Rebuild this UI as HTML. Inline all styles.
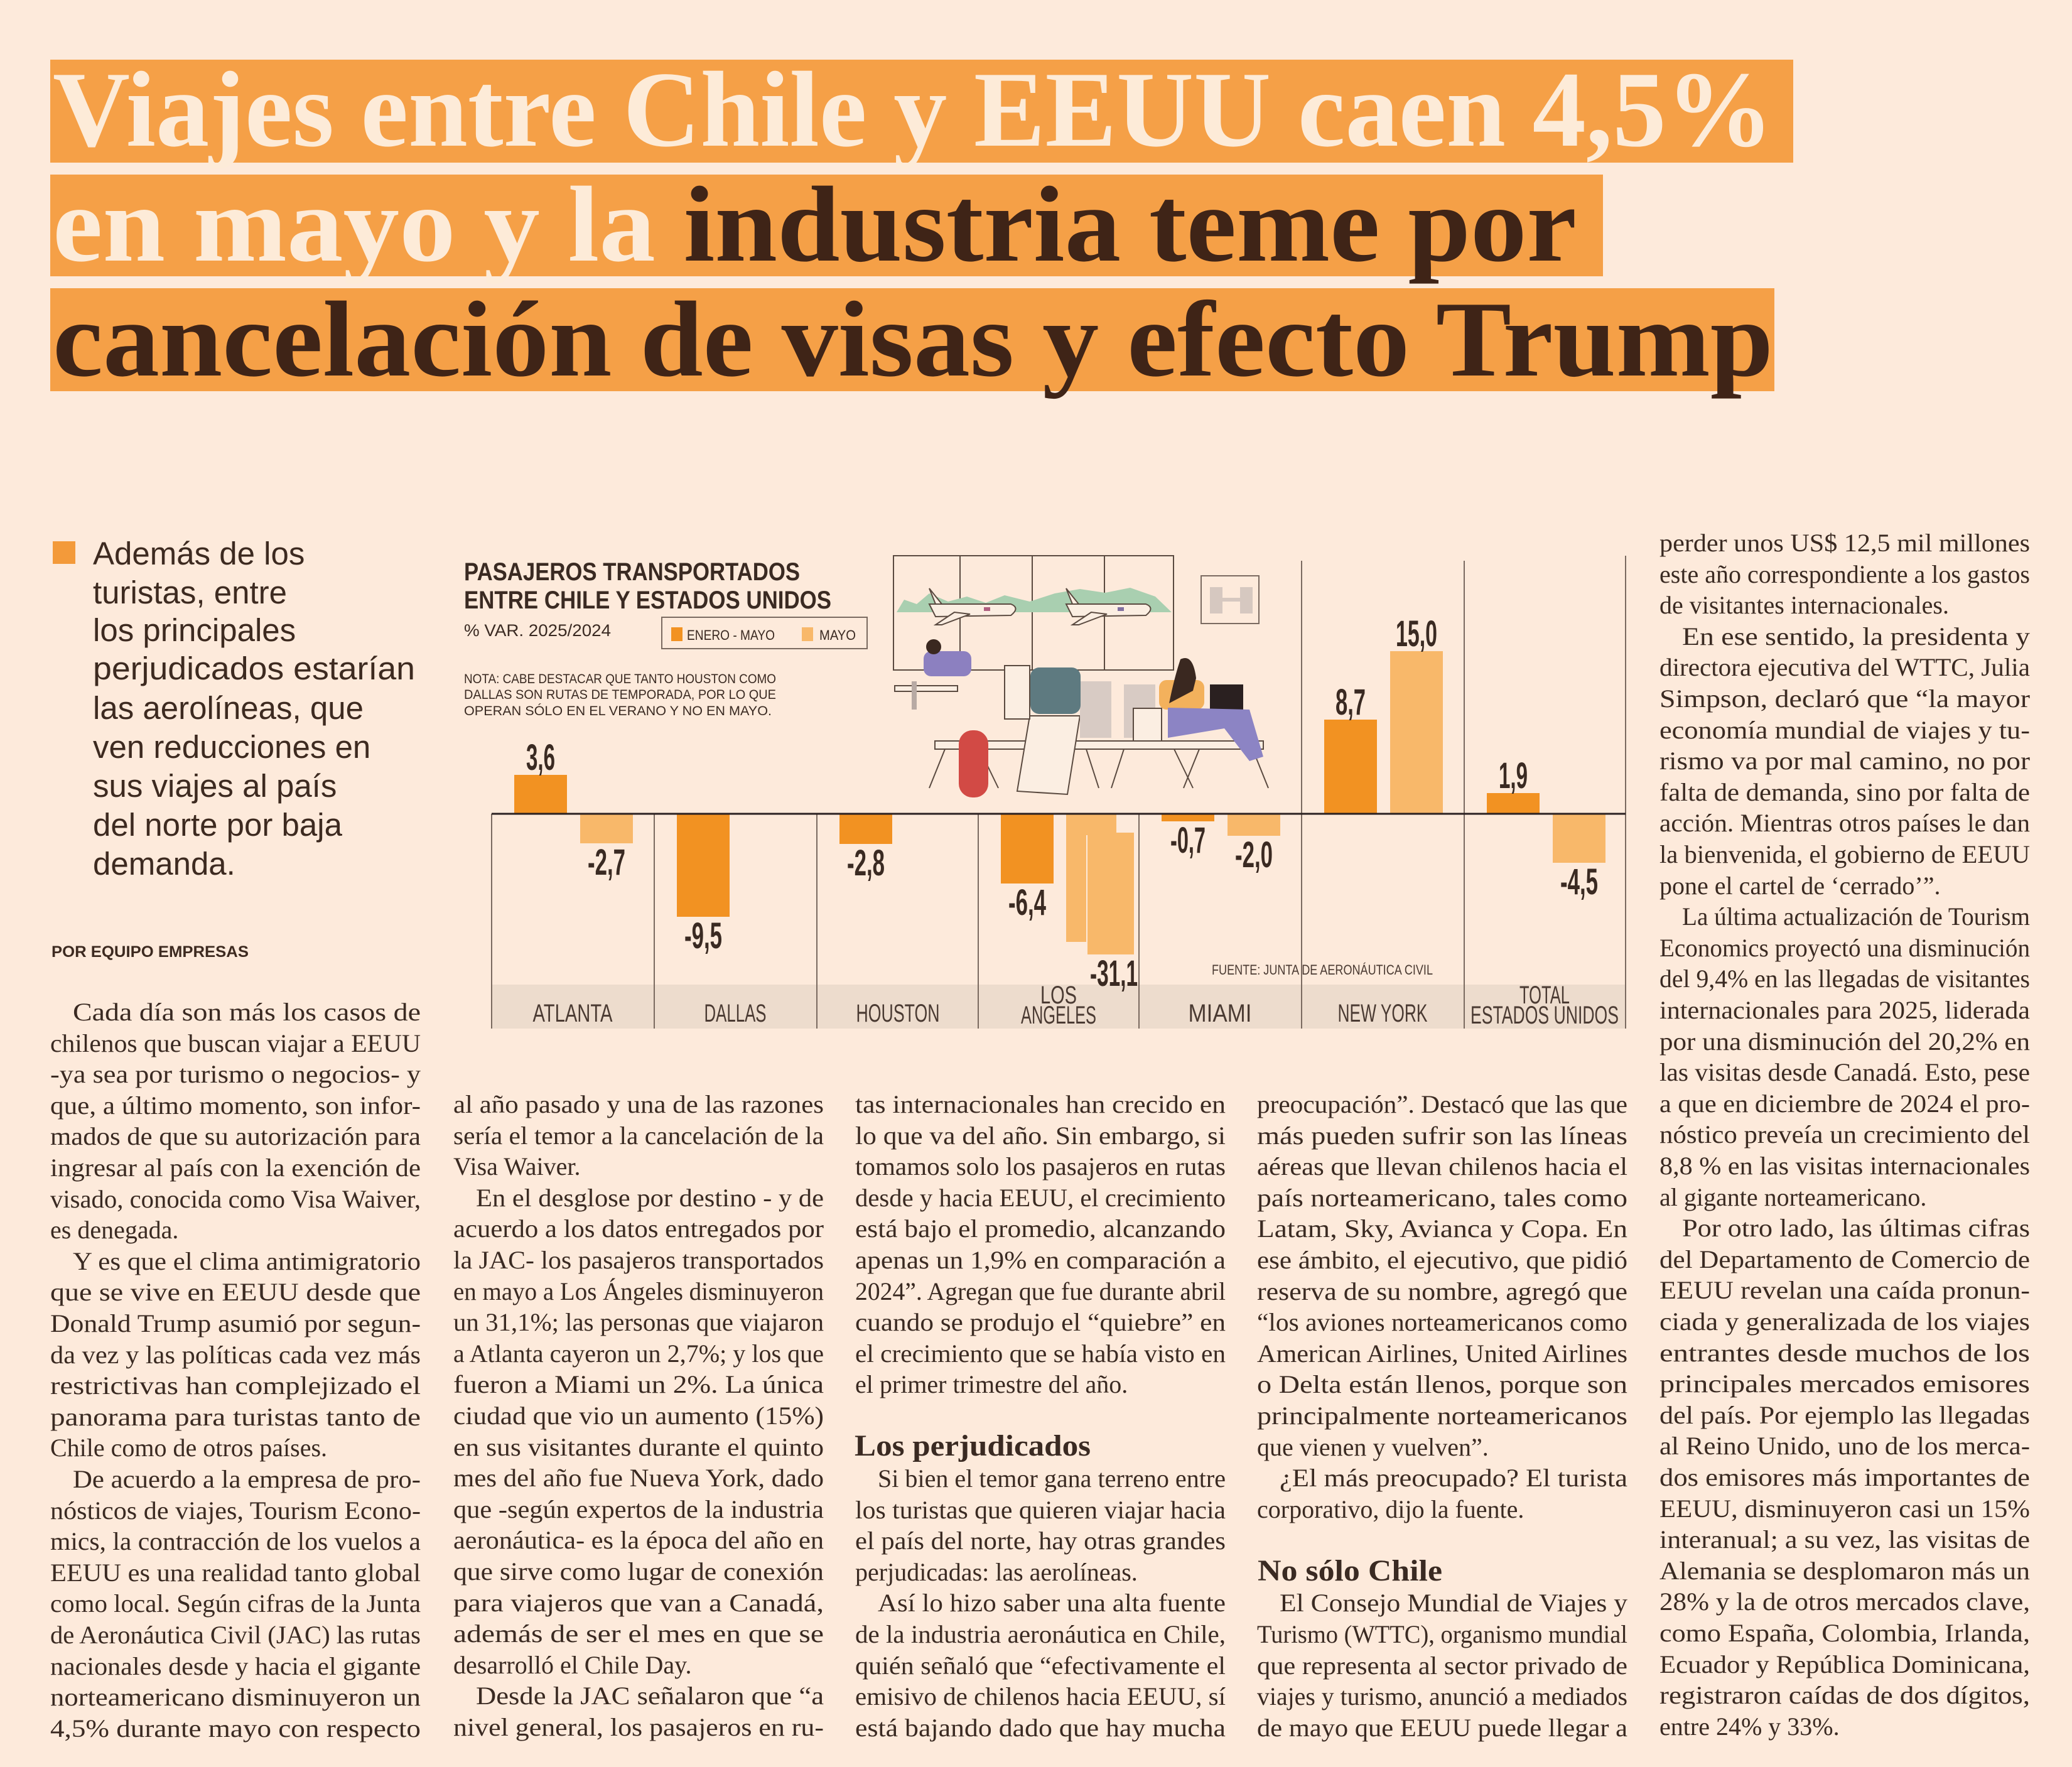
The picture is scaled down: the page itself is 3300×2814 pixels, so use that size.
<!DOCTYPE html>
<html><head><meta charset="utf-8"><style>
html,body{margin:0;padding:0;background:#fdeadb;}
svg{display:block}
.b{font-family:"Liberation Serif",serif;font-size:40px;fill:#3a2a22}
.h{font-family:"Liberation Serif",serif;font-size:48px;font-weight:bold;fill:#3a2a22}
.n{font-family:"Liberation Sans Narrow","Liberation Sans",sans-serif}
</style></head><body>
<svg width="3300" height="2814" viewBox="0 0 3300 2814" xmlns="http://www.w3.org/2000/svg">
<rect width="3300" height="2814" fill="#fdeadb"/>
<!-- Title -->
<rect x="80" y="95" width="2776" height="164" fill="#f5a047"/>
<rect x="80" y="278" width="2473" height="162" fill="#f5a047"/>
<rect x="80" y="459" width="2746" height="164" fill="#f5a047"/>
<g font-family="Liberation Serif, serif" font-weight="bold" font-size="172">
<text x="84" y="232" textLength="2740" lengthAdjust="spacingAndGlyphs" fill="#fdebd8">Viajes entre Chile y EEUU caen 4,5%</text>
<text x="84" y="415" textLength="2427" lengthAdjust="spacingAndGlyphs"><tspan fill="#fdebd8">en mayo y la </tspan><tspan fill="#3f2417">industria teme por</tspan></text>
<text x="84" y="598" textLength="2740" lengthAdjust="spacingAndGlyphs" fill="#3f2417">cancelación de visas y efecto Trump</text>
</g>
<!-- Lead -->
<rect x="84" y="862" width="36" height="36" fill="#f39a3a"/>
<g font-family="Liberation Sans, sans-serif" font-size="51" fill="#3d2a20">
<text x="148" y="899">Además de los</text>
<text x="148" y="961">turistas, entre</text>
<text x="148" y="1021">los principales</text>
<text x="148" y="1082" textLength="513" lengthAdjust="spacingAndGlyphs">perjudicados estarían</text>
<text x="148" y="1145">las aerolíneas, que</text>
<text x="148" y="1207">ven reducciones en</text>
<text x="148" y="1269">sus viajes al país</text>
<text x="148" y="1331">del norte por baja</text>
<text x="148" y="1393">demanda.</text>
</g>
<text x="82" y="1524" font-family="Liberation Sans, sans-serif" font-weight="bold" font-size="25" fill="#3d2a20" textLength="314" lengthAdjust="spacingAndGlyphs">POR EQUIPO EMPRESAS</text>

<!-- Chart -->
<g>
<rect x="783" y="1568" width="1806" height="70" fill="#eddccd"/>
<g stroke="#5a4a40" stroke-width="2" fill="none">
<rect x="1423" y="885" width="446" height="182"/>
<line x1="1529" y1="885" x2="1529" y2="1067"/><line x1="1644" y1="885" x2="1644" y2="1067"/><line x1="1759" y1="885" x2="1759" y2="1067"/>
</g>
<path d="M1428 975 L1440 955 L1460 962 L1480 945 L1510 958 L1540 950 L1570 960 L1600 948 L1640 958 L1680 945 L1720 938 L1760 944 L1800 936 L1840 950 L1866 975 Z" fill="#a9cfb0"/>
<g fill="#fbeee2" stroke="#5a4a40" stroke-width="2">
<path d="M1480 962 L1610 962 Q1625 968 1610 980 L1490 982 Z"/>
<path d="M1480 937 L1500 962 L1490 962 Z"/>
<path d="M1520 975 L1490 995 L1500 995 L1545 978 Z"/>
<path d="M1698 962 L1825 962 Q1840 968 1825 980 L1708 982 Z"/>
<path d="M1698 937 L1718 962 L1708 962 Z"/>
<path d="M1738 975 L1708 995 L1718 995 L1763 978 Z"/>
</g>
<rect x="1567" y="967" width="10" height="6" fill="#b06080"/>
<rect x="1780" y="967" width="10" height="6" fill="#8070a0"/>
<rect x="1913" y="917" width="92" height="76" fill="none" stroke="#7a6a60" stroke-width="2"/>
<rect x="1927" y="935" width="20" height="42" fill="#d6c8c0"/><rect x="1975" y="935" width="20" height="42" fill="#d6c8c0"/><rect x="1947" y="952" width="28" height="6" fill="#d6c8c0"/>
<g stroke="#5a4a40" stroke-width="2" fill="#fbeee2">
<rect x="1425" y="1092" width="100" height="9"/>
<rect x="1489" y="1180" width="523" height="13"/>
<path d="M1505 1193 L1480 1255 M1560 1193 L1590 1255 M1730 1193 L1750 1255 M1790 1193 L1770 1255 M1870 1193 L1900 1255 M1910 1193 L1885 1255 M1995 1193 L2020 1255"/>
<path d="M1640 1140 L1620 1260 L1700 1265 L1720 1140 Z"/>
</g>
<rect x="1720" y="1085" width="50" height="90" fill="#d8cbc4"/>
<rect x="1790" y="1090" width="50" height="85" fill="#d8cbc4"/>
<rect x="1452" y="1085" width="8" height="45" fill="#b8aaa4"/>
<rect x="1471" y="1037" width="76" height="40" rx="12" fill="#8c80c0"/>
<circle cx="1487" cy="1030" r="12" fill="#3a2820"/>
<rect x="1641" y="1063" width="80" height="74" rx="14" fill="#5e7a80"/>
<rect x="1600" y="1060" width="40" height="85" fill="#fbeee2" stroke="#5a4a40" stroke-width="2"/>
<rect x="1527" y="1163" width="47" height="107" rx="22" fill="#d24a45"/>
<rect x="1846" y="1083" width="72" height="47" rx="12" fill="#f3b15c"/>
<path d="M1862 1120 Q1870 1080 1880 1050 Q1900 1040 1905 1080 L1900 1100 Z" fill="#3a2820"/>
<rect x="1927" y="1090" width="53" height="40" fill="#2a2020"/>
<path d="M1860 1127 L1990 1130 L2012 1205 L1990 1212 L1950 1160 L1860 1175 Z" fill="#8c84c4"/>
<rect x="1805" y="1128" width="45" height="52" fill="#fbeee2" stroke="#5a4a40" stroke-width="2"/>
</g>
<g stroke="#7a6a60" stroke-width="2">
<line x1="783" y1="1296" x2="783" y2="1638"/>
<line x1="1042" y1="1296" x2="1042" y2="1638"/>
<line x1="1301" y1="1296" x2="1301" y2="1638"/>
<line x1="1558" y1="1296" x2="1558" y2="1638"/>
<line x1="1814" y1="1296" x2="1814" y2="1638"/>
<line x1="2073" y1="893" x2="2073" y2="1638"/>
<line x1="2332" y1="893" x2="2332" y2="1638"/>
<line x1="2589" y1="885" x2="2589" y2="1638"/>
</g>
<g fill="#f29222">
<rect x="819" y="1234" width="84" height="62"/>
<rect x="1078" y="1296" width="84" height="164"/>
<rect x="1337" y="1296" width="84" height="48"/>
<rect x="1594" y="1296" width="84" height="111"/>
<rect x="1850" y="1296" width="84" height="12"/>
<rect x="2109" y="1146" width="84" height="150"/>
<rect x="2368" y="1263" width="84" height="33"/>
</g>
<g fill="#f8b86a">
<rect x="924" y="1296" width="84" height="47"/>
<path d="M1698 1296 L1778 1296 L1778 1330 L1730 1330 L1730 1500 L1698 1500 Z"/>
<rect x="1732" y="1326" width="74" height="194"/>
<rect x="1955" y="1296" width="84" height="35"/>
<rect x="2214" y="1037" width="84" height="259"/>
<rect x="2473" y="1296" width="84" height="78"/>
</g>
<line x1="783" y1="1296" x2="2589" y2="1296" stroke="#2a2020" stroke-width="3"/>
<g class="n" font-weight="bold" font-size="58" fill="#3a2a22" text-anchor="middle" lengthAdjust="spacingAndGlyphs">
<text x="861" y="1226" textLength="46" lengthAdjust="spacingAndGlyphs">3,6</text>
<text x="966" y="1393" textLength="60" lengthAdjust="spacingAndGlyphs">-2,7</text>
<text x="1120" y="1510" textLength="60" lengthAdjust="spacingAndGlyphs">-9,5</text>
<text x="1379" y="1394" textLength="60" lengthAdjust="spacingAndGlyphs">-2,8</text>
<text x="1636" y="1457" textLength="60" lengthAdjust="spacingAndGlyphs">-6,4</text>
<text x="1774" y="1570" textLength="76" lengthAdjust="spacingAndGlyphs">-31,1</text>
<text x="1892" y="1358" textLength="56" lengthAdjust="spacingAndGlyphs">-0,7</text>
<text x="1997" y="1381" textLength="60" lengthAdjust="spacingAndGlyphs">-2,0</text>
<text x="2151" y="1138" textLength="48" lengthAdjust="spacingAndGlyphs">8,7</text>
<text x="2256" y="1029" textLength="66" lengthAdjust="spacingAndGlyphs">15,0</text>
<text x="2410" y="1255" textLength="46" lengthAdjust="spacingAndGlyphs">1,9</text>
<text x="2515" y="1424" textLength="60" lengthAdjust="spacingAndGlyphs">-4,5</text>
</g>
<g class="n" font-size="40" fill="#4a3a32" text-anchor="middle">
<text x="912" y="1627" textLength="127" lengthAdjust="spacingAndGlyphs">ATLANTA</text>
<text x="1171" y="1627" textLength="99" lengthAdjust="spacingAndGlyphs">DALLAS</text>
<text x="1430" y="1627" textLength="133" lengthAdjust="spacingAndGlyphs">HOUSTON</text>
<text x="1686" y="1598" textLength="58" lengthAdjust="spacingAndGlyphs">LOS</text><text x="1686" y="1630" textLength="120" lengthAdjust="spacingAndGlyphs">ANGELES</text>
<text x="1943" y="1627" textLength="101" lengthAdjust="spacingAndGlyphs">MIAMI</text>
<text x="2202" y="1627" textLength="143" lengthAdjust="spacingAndGlyphs">NEW YORK</text>
<text x="2460" y="1598" textLength="80" lengthAdjust="spacingAndGlyphs">TOTAL</text><text x="2460" y="1630" textLength="236" lengthAdjust="spacingAndGlyphs">ESTADOS UNIDOS</text>
</g>
<text class="n" x="1930" y="1552" font-size="22" fill="#4a3a32" textLength="352" lengthAdjust="spacingAndGlyphs">FUENTE: JUNTA DE AERONÁUTICA CIVIL</text>
<g class="n" font-weight="bold" fill="#3a2a22">
<text x="739" y="924" font-size="40" textLength="535" lengthAdjust="spacingAndGlyphs">PASAJEROS TRANSPORTADOS</text>
<text x="739" y="969" font-size="40" textLength="585" lengthAdjust="spacingAndGlyphs">ENTRE CHILE Y ESTADOS UNIDOS</text>
</g>
<text class="n" x="739" y="1013" font-size="27" fill="#3a2a22" textLength="234" lengthAdjust="spacingAndGlyphs">% VAR. 2025/2024</text>
<rect x="1054" y="983" width="327" height="50" fill="none" stroke="#7a6a60" stroke-width="2"/>
<rect x="1069" y="999" width="18" height="22" fill="#f29222"/>
<text class="n" x="1094" y="1019" font-size="22" fill="#3a2a22" textLength="140" lengthAdjust="spacingAndGlyphs">ENERO - MAYO</text>
<rect x="1277" y="999" width="18" height="22" fill="#f8b86a"/>
<text class="n" x="1305" y="1019" font-size="22" fill="#3a2a22" textLength="58" lengthAdjust="spacingAndGlyphs">MAYO</text>
<g class="n" font-size="21" fill="#3a2a22">
<text x="739" y="1088" textLength="497" lengthAdjust="spacingAndGlyphs">NOTA: CABE DESTACAR QUE TANTO HOUSTON COMO</text>
<text x="739" y="1113" textLength="497" lengthAdjust="spacingAndGlyphs">DALLAS SON RUTAS DE TEMPORADA, POR LO QUE</text>
<text x="739" y="1139" textLength="490" lengthAdjust="spacingAndGlyphs">OPERAN SÓLO EN EL VERANO Y NO EN MAYO.</text>
</g>

<g class="b">
<text x="116" y="1625" textLength="554" lengthAdjust="spacingAndGlyphs">Cada día son más los casos de</text>
<text x="80" y="1675" textLength="590" lengthAdjust="spacingAndGlyphs">chilenos que buscan viajar a EEUU</text>
<text x="80" y="1724" textLength="590" lengthAdjust="spacingAndGlyphs">-ya sea por turismo o negocios- y</text>
<text x="80" y="1774" textLength="590" lengthAdjust="spacingAndGlyphs">que, a último momento, son infor-</text>
<text x="80" y="1823" textLength="590" lengthAdjust="spacingAndGlyphs">mados de que su autorización para</text>
<text x="80" y="1873" textLength="590" lengthAdjust="spacingAndGlyphs">ingresar al país con la exención de</text>
<text x="80" y="1923" textLength="590" lengthAdjust="spacingAndGlyphs">visado, conocida como Visa Waiver,</text>
<text x="80" y="1972">es denegada.</text>
<text x="116" y="2022" textLength="554" lengthAdjust="spacingAndGlyphs">Y es que el clima antimigratorio</text>
<text x="80" y="2071" textLength="590" lengthAdjust="spacingAndGlyphs">que se vive en EEUU desde que</text>
<text x="80" y="2121" textLength="590" lengthAdjust="spacingAndGlyphs">Donald Trump asumió por segun-</text>
<text x="80" y="2171" textLength="590" lengthAdjust="spacingAndGlyphs">da vez y las políticas cada vez más</text>
<text x="80" y="2220" textLength="590" lengthAdjust="spacingAndGlyphs">restrictivas han complejizado el</text>
<text x="80" y="2270" textLength="590" lengthAdjust="spacingAndGlyphs">panorama para turistas tanto de</text>
<text x="80" y="2319">Chile como de otros países.</text>
<text x="116" y="2369" textLength="554" lengthAdjust="spacingAndGlyphs">De acuerdo a la empresa de pro-</text>
<text x="80" y="2419" textLength="590" lengthAdjust="spacingAndGlyphs">nósticos de viajes, Tourism Econo-</text>
<text x="80" y="2468" textLength="590" lengthAdjust="spacingAndGlyphs">mics, la contracción de los vuelos a</text>
<text x="80" y="2518" textLength="590" lengthAdjust="spacingAndGlyphs">EEUU es una realidad tanto global</text>
<text x="80" y="2567" textLength="590" lengthAdjust="spacingAndGlyphs">como local. Según cifras de la Junta</text>
<text x="80" y="2617" textLength="590" lengthAdjust="spacingAndGlyphs">de Aeronáutica Civil (JAC) las rutas</text>
<text x="80" y="2667" textLength="590" lengthAdjust="spacingAndGlyphs">nacionales desde y hacia el gigante</text>
<text x="80" y="2716" textLength="590" lengthAdjust="spacingAndGlyphs">norteamericano disminuyeron un</text>
<text x="80" y="2766" textLength="590" lengthAdjust="spacingAndGlyphs">4,5% durante mayo con respecto</text>
<text x="722" y="1772" textLength="590" lengthAdjust="spacingAndGlyphs">al año pasado y una de las razones</text>
<text x="722" y="1822" textLength="590" lengthAdjust="spacingAndGlyphs">sería el temor a la cancelación de la</text>
<text x="722" y="1871">Visa Waiver.</text>
<text x="758" y="1921" textLength="554" lengthAdjust="spacingAndGlyphs">En el desglose por destino - y de</text>
<text x="722" y="1970" textLength="590" lengthAdjust="spacingAndGlyphs">acuerdo a los datos entregados por</text>
<text x="722" y="2020" textLength="590" lengthAdjust="spacingAndGlyphs">la JAC- los pasajeros transportados</text>
<text x="722" y="2070" textLength="590" lengthAdjust="spacingAndGlyphs">en mayo a Los Ángeles disminuyeron</text>
<text x="722" y="2119" textLength="590" lengthAdjust="spacingAndGlyphs">un 31,1%; las personas que viajaron</text>
<text x="722" y="2169" textLength="590" lengthAdjust="spacingAndGlyphs">a Atlanta cayeron un 2,7%; y los que</text>
<text x="722" y="2218" textLength="590" lengthAdjust="spacingAndGlyphs">fueron a Miami un 2%. La única</text>
<text x="722" y="2268" textLength="590" lengthAdjust="spacingAndGlyphs">ciudad que vio un aumento (15%)</text>
<text x="722" y="2318" textLength="590" lengthAdjust="spacingAndGlyphs">en sus visitantes durante el quinto</text>
<text x="722" y="2367" textLength="590" lengthAdjust="spacingAndGlyphs">mes del año fue Nueva York, dado</text>
<text x="722" y="2417" textLength="590" lengthAdjust="spacingAndGlyphs">que -según expertos de la industria</text>
<text x="722" y="2466" textLength="590" lengthAdjust="spacingAndGlyphs">aeronáutica- es la época del año en</text>
<text x="722" y="2516" textLength="590" lengthAdjust="spacingAndGlyphs">que sirve como lugar de conexión</text>
<text x="722" y="2566" textLength="590" lengthAdjust="spacingAndGlyphs">para viajeros que van a Canadá,</text>
<text x="722" y="2615" textLength="590" lengthAdjust="spacingAndGlyphs">además de ser el mes en que se</text>
<text x="722" y="2665">desarrolló el Chile Day.</text>
<text x="758" y="2714" textLength="554" lengthAdjust="spacingAndGlyphs">Desde la JAC señalaron que “a</text>
<text x="722" y="2764" textLength="590" lengthAdjust="spacingAndGlyphs">nivel general, los pasajeros en ru-</text>
<text x="1362" y="1772" textLength="590" lengthAdjust="spacingAndGlyphs">tas internacionales han crecido en</text>
<text x="1362" y="1822" textLength="590" lengthAdjust="spacingAndGlyphs">lo que va del año. Sin embargo, si</text>
<text x="1362" y="1871" textLength="590" lengthAdjust="spacingAndGlyphs">tomamos solo los pasajeros en rutas</text>
<text x="1362" y="1921" textLength="590" lengthAdjust="spacingAndGlyphs">desde y hacia EEUU, el crecimiento</text>
<text x="1362" y="1970" textLength="590" lengthAdjust="spacingAndGlyphs">está bajo el promedio, alcanzando</text>
<text x="1362" y="2020" textLength="590" lengthAdjust="spacingAndGlyphs">apenas un 1,9% en comparación a</text>
<text x="1362" y="2070" textLength="590" lengthAdjust="spacingAndGlyphs">2024”. Agregan que fue durante abril</text>
<text x="1362" y="2119" textLength="590" lengthAdjust="spacingAndGlyphs">cuando se produjo el “quiebre” en</text>
<text x="1362" y="2169" textLength="590" lengthAdjust="spacingAndGlyphs">el crecimiento que se había visto en</text>
<text x="1362" y="2218">el primer trimestre del año.</text>
<text class="h" x="1361" y="2318" textLength="376" lengthAdjust="spacingAndGlyphs">Los perjudicados</text>
<text x="1398" y="2368" textLength="554" lengthAdjust="spacingAndGlyphs">Si bien el temor gana terreno entre</text>
<text x="1362" y="2418" textLength="590" lengthAdjust="spacingAndGlyphs">los turistas que quieren viajar hacia</text>
<text x="1362" y="2467" textLength="590" lengthAdjust="spacingAndGlyphs">el país del norte, hay otras grandes</text>
<text x="1362" y="2517">perjudicadas: las aerolíneas.</text>
<text x="1398" y="2566" textLength="554" lengthAdjust="spacingAndGlyphs">Así lo hizo saber una alta fuente</text>
<text x="1362" y="2616" textLength="590" lengthAdjust="spacingAndGlyphs">de la industria aeronáutica en Chile,</text>
<text x="1362" y="2666" textLength="590" lengthAdjust="spacingAndGlyphs">quién señaló que “efectivamente el</text>
<text x="1362" y="2715" textLength="590" lengthAdjust="spacingAndGlyphs">emisivo de chilenos hacia EEUU, sí</text>
<text x="1362" y="2765" textLength="590" lengthAdjust="spacingAndGlyphs">está bajando dado que hay mucha</text>
<text x="2002" y="1772" textLength="590" lengthAdjust="spacingAndGlyphs">preocupación”. Destacó que las que</text>
<text x="2002" y="1822" textLength="590" lengthAdjust="spacingAndGlyphs">más pueden sufrir son las líneas</text>
<text x="2002" y="1871" textLength="590" lengthAdjust="spacingAndGlyphs">aéreas que llevan chilenos hacia el</text>
<text x="2002" y="1921" textLength="590" lengthAdjust="spacingAndGlyphs">país norteamericano, tales como</text>
<text x="2002" y="1970" textLength="590" lengthAdjust="spacingAndGlyphs">Latam, Sky, Avianca y Copa. En</text>
<text x="2002" y="2020" textLength="590" lengthAdjust="spacingAndGlyphs">ese ámbito, el ejecutivo, que pidió</text>
<text x="2002" y="2070" textLength="590" lengthAdjust="spacingAndGlyphs">reserva de su nombre, agregó que</text>
<text x="2002" y="2119" textLength="590" lengthAdjust="spacingAndGlyphs">“los aviones norteamericanos como</text>
<text x="2002" y="2169" textLength="590" lengthAdjust="spacingAndGlyphs">American Airlines, United Airlines</text>
<text x="2002" y="2218" textLength="590" lengthAdjust="spacingAndGlyphs">o Delta están llenos, porque son</text>
<text x="2002" y="2268" textLength="590" lengthAdjust="spacingAndGlyphs">principalmente norteamericanos</text>
<text x="2002" y="2318">que vienen y vuelven”.</text>
<text x="2038" y="2367" textLength="554" lengthAdjust="spacingAndGlyphs">¿El más preocupado? El turista</text>
<text x="2002" y="2417">corporativo, dijo la fuente.</text>
<text class="h" x="2003" y="2517" textLength="294" lengthAdjust="spacingAndGlyphs">No sólo Chile</text>
<text x="2038" y="2566" textLength="554" lengthAdjust="spacingAndGlyphs">El Consejo Mundial de Viajes y</text>
<text x="2002" y="2616" textLength="590" lengthAdjust="spacingAndGlyphs">Turismo (WTTC), organismo mundial</text>
<text x="2002" y="2666" textLength="590" lengthAdjust="spacingAndGlyphs">que representa al sector privado de</text>
<text x="2002" y="2715" textLength="590" lengthAdjust="spacingAndGlyphs">viajes y turismo, anunció a mediados</text>
<text x="2002" y="2765" textLength="590" lengthAdjust="spacingAndGlyphs">de mayo que EEUU puede llegar a</text>
<text x="2643" y="878" textLength="590" lengthAdjust="spacingAndGlyphs">perder unos US$ 12,5 mil millones</text>
<text x="2643" y="928" textLength="590" lengthAdjust="spacingAndGlyphs">este año correspondiente a los gastos</text>
<text x="2643" y="977">de visitantes internacionales.</text>
<text x="2679" y="1027" textLength="554" lengthAdjust="spacingAndGlyphs">En ese sentido, la presidenta y</text>
<text x="2643" y="1076" textLength="590" lengthAdjust="spacingAndGlyphs">directora ejecutiva del WTTC, Julia</text>
<text x="2643" y="1126" textLength="590" lengthAdjust="spacingAndGlyphs">Simpson, declaró que “la mayor</text>
<text x="2643" y="1176" textLength="590" lengthAdjust="spacingAndGlyphs">economía mundial de viajes y tu-</text>
<text x="2643" y="1225" textLength="590" lengthAdjust="spacingAndGlyphs">rismo va por mal camino, no por</text>
<text x="2643" y="1275" textLength="590" lengthAdjust="spacingAndGlyphs">falta de demanda, sino por falta de</text>
<text x="2643" y="1324" textLength="590" lengthAdjust="spacingAndGlyphs">acción. Mientras otros países le dan</text>
<text x="2643" y="1374" textLength="590" lengthAdjust="spacingAndGlyphs">la bienvenida, el gobierno de EEUU</text>
<text x="2643" y="1424">pone el cartel de ‘cerrado’”.</text>
<text x="2679" y="1473" textLength="554" lengthAdjust="spacingAndGlyphs">La última actualización de Tourism</text>
<text x="2643" y="1523" textLength="590" lengthAdjust="spacingAndGlyphs">Economics proyectó una disminución</text>
<text x="2643" y="1572" textLength="590" lengthAdjust="spacingAndGlyphs">del 9,4% en las llegadas de visitantes</text>
<text x="2643" y="1622" textLength="590" lengthAdjust="spacingAndGlyphs">internacionales para 2025, liderada</text>
<text x="2643" y="1672" textLength="590" lengthAdjust="spacingAndGlyphs">por una disminución del 20,2% en</text>
<text x="2643" y="1721" textLength="590" lengthAdjust="spacingAndGlyphs">las visitas desde Canadá. Esto, pese</text>
<text x="2643" y="1771" textLength="590" lengthAdjust="spacingAndGlyphs">a que en diciembre de 2024 el pro-</text>
<text x="2643" y="1820" textLength="590" lengthAdjust="spacingAndGlyphs">nóstico preveía un crecimiento del</text>
<text x="2643" y="1870" textLength="590" lengthAdjust="spacingAndGlyphs">8,8 % en las visitas internacionales</text>
<text x="2643" y="1920">al gigante norteamericano.</text>
<text x="2679" y="1969" textLength="554" lengthAdjust="spacingAndGlyphs">Por otro lado, las últimas cifras</text>
<text x="2643" y="2019" textLength="590" lengthAdjust="spacingAndGlyphs">del Departamento de Comercio de</text>
<text x="2643" y="2068" textLength="590" lengthAdjust="spacingAndGlyphs">EEUU revelan una caída pronun-</text>
<text x="2643" y="2118" textLength="590" lengthAdjust="spacingAndGlyphs">ciada y generalizada de los viajes</text>
<text x="2643" y="2168" textLength="590" lengthAdjust="spacingAndGlyphs">entrantes desde muchos de los</text>
<text x="2643" y="2217" textLength="590" lengthAdjust="spacingAndGlyphs">principales mercados emisores</text>
<text x="2643" y="2267" textLength="590" lengthAdjust="spacingAndGlyphs">del país. Por ejemplo las llegadas</text>
<text x="2643" y="2316" textLength="590" lengthAdjust="spacingAndGlyphs">al Reino Unido, uno de los merca-</text>
<text x="2643" y="2366" textLength="590" lengthAdjust="spacingAndGlyphs">dos emisores más importantes de</text>
<text x="2643" y="2416" textLength="590" lengthAdjust="spacingAndGlyphs">EEUU, disminuyeron casi un 15%</text>
<text x="2643" y="2465" textLength="590" lengthAdjust="spacingAndGlyphs">interanual; a su vez, las visitas de</text>
<text x="2643" y="2515" textLength="590" lengthAdjust="spacingAndGlyphs">Alemania se desplomaron más un</text>
<text x="2643" y="2564" textLength="590" lengthAdjust="spacingAndGlyphs">28% y la de otros mercados clave,</text>
<text x="2643" y="2614" textLength="590" lengthAdjust="spacingAndGlyphs">como España, Colombia, Irlanda,</text>
<text x="2643" y="2664" textLength="590" lengthAdjust="spacingAndGlyphs">Ecuador y República Dominicana,</text>
<text x="2643" y="2713" textLength="590" lengthAdjust="spacingAndGlyphs">registraron caídas de dos dígitos,</text>
<text x="2643" y="2763">entre 24% y 33%.</text>
</g>
</svg>
</body></html>
